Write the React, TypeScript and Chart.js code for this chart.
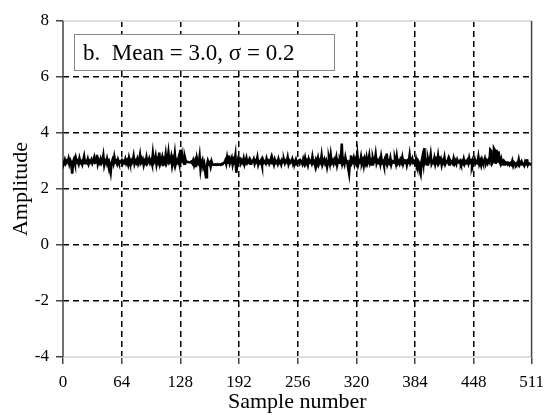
import React, { useEffect, useRef } from "react";
import { Chart, registerables } from "chart.js";

Chart.register(...registerables);

const amplitude: number[] = [
  2.98, 2.94, 3.04, 2.92, 3.00, 2.96, 3.08, 2.90, 3.02, 2.94, 2.55, 2.96, 3.06, 2.92, 3.10, 2.96,
  3.00, 2.90, 3.08, 2.94, 2.98, 2.88, 3.02, 3.16, 2.92, 2.98, 2.94, 3.06, 2.90, 3.00, 2.96, 3.04,
  2.92, 3.00, 3.12, 2.94, 2.96, 3.22, 2.90, 3.02, 2.94, 3.06, 2.92, 2.98, 3.18, 2.86, 3.00, 2.94,
  3.08, 2.92, 2.98, 2.78, 2.60, 2.94, 3.04, 2.92, 3.14, 2.96, 3.00, 2.90, 3.04, 2.94, 2.98, 2.96,
  3.02, 2.90, 2.98, 2.94, 3.06, 2.92, 3.00, 2.88, 3.10, 2.96, 3.02, 2.92, 2.98, 3.16, 2.90, 3.00,
  2.94, 3.06, 2.90, 3.00, 3.20, 2.92, 2.96, 3.04, 2.86, 3.00, 2.94, 3.12, 2.92, 2.98, 3.08, 2.94,
  3.02, 2.90, 3.24, 2.94, 3.00, 3.16, 2.88, 3.04, 2.96, 3.30, 2.90, 3.00, 3.12, 2.82, 3.04, 2.96,
  3.22, 2.92, 3.00, 3.28, 2.94, 2.98, 3.14, 2.86, 3.06, 2.94, 3.24, 2.90, 3.02, 2.96, 3.10, 2.92,
  3.40, 2.94, 3.20, 3.00, 2.90, 3.12, 2.98, 2.96, 2.97, 2.96, 2.95, 2.96, 2.98, 2.92, 3.02, 2.86,
  2.98, 2.78, 3.08, 2.92, 2.88, 3.14, 2.72, 2.96, 3.04, 2.80, 2.90, 2.62, 2.42, 2.84, 3.00, 2.90,
  2.94, 2.80, 2.98, 2.88, 2.86, 2.87, 2.88, 2.86, 2.87, 2.88, 2.87, 2.88, 2.86, 2.89, 2.88, 2.92,
  2.94, 3.02, 2.90, 3.12, 2.94, 3.20, 2.92, 3.00, 3.10, 2.88, 3.04, 2.96, 3.18, 2.58, 2.88, 3.06,
  2.98, 3.14, 2.92, 3.00, 2.94, 3.08, 2.88, 2.98, 3.10, 2.92, 2.96, 3.04, 2.90, 3.00, 2.94, 2.98,
  3.06, 2.90, 3.00, 2.96, 3.12, 2.88, 2.98, 2.94, 3.02, 2.86, 3.04, 2.94, 2.98, 2.92, 3.08, 2.96,
  3.00, 2.90, 2.98, 3.10, 2.92, 3.00, 2.88, 3.04, 2.94, 2.98, 2.90, 3.06, 2.94, 2.98, 2.88, 3.02,
  2.96, 3.04, 2.92, 3.00, 2.96, 3.12, 2.90, 3.00, 2.94, 2.98, 3.06, 2.90, 2.98, 2.94, 3.04, 2.92,
  2.96, 3.00, 2.92, 3.02, 2.98, 2.90, 3.06, 2.94, 3.10, 2.92, 2.98, 2.86, 3.06, 2.96, 3.00, 2.92,
  3.14, 2.94, 2.98, 2.84, 3.04, 2.96, 3.10, 2.90, 3.00, 2.94, 3.18, 2.88, 2.98, 3.06, 2.92, 3.00,
  2.80, 2.98, 3.08, 2.92, 3.20, 2.94, 3.00, 2.90, 3.04, 2.96, 3.12, 2.86, 3.00, 2.94, 3.06, 2.98,
  3.62, 2.92, 3.02, 2.90, 3.12, 2.96, 2.98, 2.76, 2.56, 3.00, 3.20, 2.92, 2.98, 3.10, 2.90, 3.04,
  2.94, 3.22, 2.88, 3.00, 2.96, 3.14, 2.92, 3.02, 2.84, 3.06, 2.94, 3.12, 2.90, 2.98, 3.18, 2.92,
  3.00, 2.88, 3.08, 2.94, 2.98, 3.22, 2.92, 3.02, 2.96, 3.04, 2.90, 3.14, 2.94, 2.98, 2.84, 3.04,
  2.96, 3.26, 2.90, 3.00, 2.94, 3.10, 2.88, 3.00, 2.98, 2.94, 3.06, 2.92, 3.16, 2.92, 2.98, 2.90,
  3.04, 2.96, 3.12, 2.90, 3.00, 2.94, 3.06, 2.86, 3.00, 2.96, 3.20, 2.92, 2.98, 3.08, 2.94, 2.98,
  2.92, 3.06, 2.90, 3.02, 2.96, 2.66, 2.54, 2.98, 3.14, 2.92, 3.46, 2.94, 3.00, 2.88, 3.08, 2.94,
  3.00, 3.22, 2.90, 2.98, 2.94, 3.10, 2.90, 3.04, 2.96, 3.18, 2.92, 2.98, 3.06, 2.86, 3.00, 2.94,
  3.12, 2.90, 2.98, 2.96, 3.06, 2.88, 3.02, 2.94, 2.98, 2.92, 3.08, 2.92, 3.00, 2.90, 3.04, 2.96,
  2.94, 3.00, 2.90, 2.98, 2.92, 3.06, 2.90, 2.98, 2.94, 3.02, 2.92, 3.10, 2.96, 3.00, 2.88, 3.04,
  2.96, 3.06, 2.92, 2.98, 2.94, 3.14, 2.90, 3.00, 2.86, 3.04, 2.94, 2.98, 3.08, 2.90, 3.00, 2.92,
  3.02, 2.96, 3.40, 3.36, 2.92, 2.98, 3.44, 3.38, 2.90, 3.40, 2.94, 3.34, 2.98, 2.90, 3.06, 2.92,
  2.98, 2.88, 2.96, 2.92, 2.94, 2.88, 2.92, 2.86, 2.92, 2.88, 3.00, 2.84, 2.94, 2.90, 2.86, 2.92,
  2.88, 3.04, 2.86, 2.92, 2.98, 2.88, 2.90, 2.84, 2.96, 2.88, 3.06, 2.86, 2.92, 2.90, 2.88, 2.92,
];

const xTicks: number[] = [0, 64, 128, 192, 256, 320, 384, 448, 511];
const yTicks: number[] = [-4, -2, 0, 2, 4, 6, 8];
const xTitle = "Sample number";
const yTitle = "Amplitude";
const legendText = "b.  Mean = 3.0, \u03c3 = 0.2";

const SERIF = "'Liberation Serif', 'DejaVu Serif', serif";

const framePlugin = {
  id: "frame",
  beforeDatasetsDraw(chart: any) {
    const { ctx, chartArea } = chart;
    const { left, right, top, bottom } = chartArea;
    ctx.save();
    ctx.setLineDash([]);
    ctx.strokeStyle = "#dddddd";
    ctx.lineWidth = 2;
    ctx.beginPath();
    ctx.moveTo(left, top);
    ctx.lineTo(right, top);
    ctx.moveTo(left, bottom);
    ctx.lineTo(right, bottom);
    ctx.stroke();
    ctx.strokeStyle = "#444444";
    ctx.lineWidth = 1.5;
    ctx.beginPath();
    ctx.moveTo(left, top);
    ctx.lineTo(left, bottom);
    ctx.moveTo(right, top);
    ctx.lineTo(right, bottom);
    ctx.stroke();
    ctx.restore();
  },
};

const legendPlugin = {
  id: "legendBox",
  afterDatasetsDraw(chart: any) {
    const { ctx, chartArea } = chart;
    const x = chartArea.left + 11;
    const y = chartArea.top + 13;
    const w = 260;
    const h = 36;
    ctx.save();
    ctx.fillStyle = "#ffffff";
    ctx.fillRect(x, y, w, h);
    ctx.strokeStyle = "#888888";
    ctx.lineWidth = 1;
    ctx.setLineDash([]);
    ctx.strokeRect(x + 0.5, y + 0.5, w, h);
    ctx.fillStyle = "#000000";
    ctx.font = `23px ${SERIF}`;
    ctx.textBaseline = "alphabetic";
    ctx.textAlign = "left";
    ctx.fillText(legendText, x + 9, y + 26);
    ctx.restore();
  },
};

export default function App() {
  const canvasRef = useRef<HTMLCanvasElement | null>(null);

  useEffect(() => {
    if (!canvasRef.current) return;
    const points = amplitude.map((v, i) => ({ x: i, y: v }));
    const edgeX = (v: number) => v === 0 || v === 511;
    const edgeY = (v: number) => v === -4 || v === 8;
    const chart = new Chart(canvasRef.current, {
      type: "line",
      data: {
        datasets: [
          {
            data: points,
            borderColor: "#000000",
            borderWidth: 2.6,
            pointRadius: 0,
            tension: 0,
            fill: false,
          },
        ],
      },
      options: {
        animation: false,
        responsive: false,
        parsing: false as any,
        layout: { padding: { top: 21, right: 16, left: 0, bottom: 0 } },
        plugins: {
          legend: { display: false },
          tooltip: { enabled: false },
        },
        scales: {
          x: {
            type: "linear",
            min: 0,
            max: 511,
            afterBuildTicks: (scale: any) => {
              scale.ticks = xTicks.map((v) => ({ value: v }));
            },
            afterFit: (scale: any) => {
              scale.height = 58;
            },
            grid: {
              color: (c: any) => (c.tick && edgeX(c.tick.value) ? "rgba(0,0,0,0)" : "#000000"),
              lineWidth: 1.5,
              tickColor: "#444444",
              tickLength: 7,
              tickWidth: 1.5,
              tickBorderDash: [],
            },
            border: { display: false, dash: [6, 4] },
            ticks: {
              color: "#000000",
              font: { family: SERIF, size: 17 },
              padding: 8,
              maxRotation: 0,
              autoSkip: false,
              callback: (v: any) => String(v),
            },
            title: {
              display: true,
              text: xTitle,
              color: "#000000",
              font: { family: SERIF, size: 22 },
              padding: { top: 0, bottom: 0 },
            },
          },
          y: {
            type: "linear",
            min: -4,
            max: 8,
            afterBuildTicks: (scale: any) => {
              scale.ticks = yTicks.map((v) => ({ value: v }));
            },
            afterFit: (scale: any) => {
              scale.width = 63;
            },
            grid: {
              color: (c: any) => (c.tick && edgeY(c.tick.value) ? "rgba(0,0,0,0)" : "#000000"),
              lineWidth: 1.5,
              tickColor: "#444444",
              tickLength: 7,
              tickWidth: 1.5,
              tickBorderDash: [],
            },
            border: { display: false, dash: [6, 4] },
            ticks: {
              color: "#000000",
              font: { family: SERIF, size: 17 },
              padding: 7,
              autoSkip: false,
              callback: (v: any) => String(v),
            },
            title: {
              display: true,
              text: yTitle,
              color: "#000000",
              font: { family: SERIF, size: 22 },
              padding: { top: 8, bottom: 0 },
            },
          },
        },
      },
      plugins: [framePlugin, legendPlugin],
    });
    return () => chart.destroy();
  }, []);

  return (
    <div style={{ position: "fixed", left: 0, top: 0, width: 552, height: 415, background: "#ffffff" }}>
      <canvas ref={canvasRef} width={552} height={415} style={{ display: "block" }} />
    </div>
  );
}
